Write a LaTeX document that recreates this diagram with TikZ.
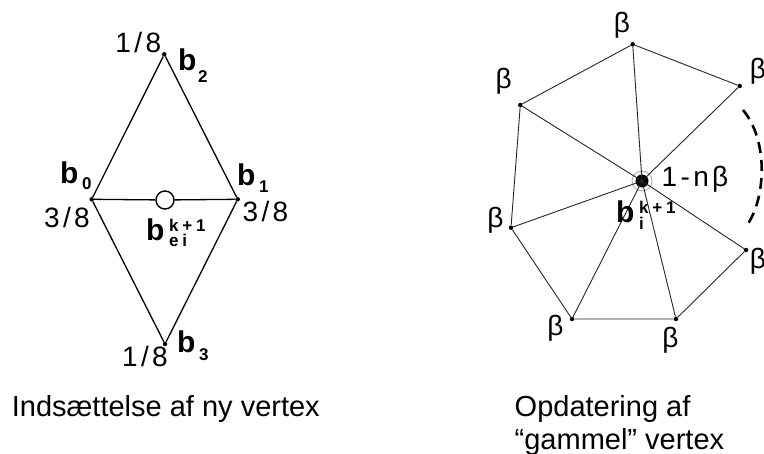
\documentclass[tikz,border=0pt]{standalone}
\usepackage{fontspec}
\setmainfont{Liberation Sans}
\newfontfamily\lblfont[LetterSpace=12]{Liberation Sans}
\newfontfamily\idxfont[LetterSpace=22]{Liberation Sans}
% b with index: #1 kern, #2 raise of sup, #3 sup, #4 drop of sub, #5 sub
\newcommand\bidx[5]{b\kern#1{\idxfont\fontsize{17}{17}\selectfont\bfseries\rlap{\raisebox{#2}{#3}}\raisebox{-#4}{#5}}}
\begin{document}
\begin{tikzpicture}[x=1pt,y=-1pt,
  dot/.style={circle,fill=black,inner sep=0pt,minimum size=4.5pt},
  edgeL/.style={line width=1.3pt},
  edgeR/.style={line width=0.9pt,black!85},
  lab/.style={font=\lblfont\fontsize{28}{28}\selectfont,inner sep=0pt},
  bsym/.style={font=\fontsize{30}{30}\selectfont\bfseries,inner sep=0pt,anchor=base west},
  capt/.style={font=\fontsize{29}{33}\selectfont,inner sep=0pt,align=left,anchor=base west}]
\useasboundingbox (0,0) rectangle (764,454);
\clip (0,0) rectangle (764,454);
% ---------- left diagram ----------
\node[dot] (b2) at (164.3,54.3) {};
\node[dot] (b0) at (91.7,199.3) {};
\node[dot] (b1) at (237.7,199.3) {};
\node[dot] (b3) at (165,344) {};
\node[circle,draw,line width=1.4pt,fill=white,minimum size=18pt,inner sep=0pt] (m) at (165,200) {};
\draw[edgeL] (b0) -- (b2) -- (b1) -- (b3) -- (b0);
\draw[edgeL] (b0) -- (m) -- (b1);
\node[lab,anchor=base] (l2) at (138.3,53) {1/8};
\node[lab,anchor=base] (l0) at (67,228) {3/8};
\node[lab,anchor=base] (l1) at (265.5,221.5) {3/8};
\node[lab,anchor=base] (l3) at (145,366.5) {1/8};
\node[bsym] (t2) at (178,71) {\bidx{1.7pt}{0pt}{}{12pt}{2}};
\node[bsym] (t0) at (60,184) {\bidx{3.7pt}{0pt}{}{6pt}{0}};
\node[bsym] (t1) at (237,186) {\bidx{3.7pt}{0pt}{}{7pt}{1}};
\node[bsym] (t3) at (177,353) {\bidx{3.7pt}{0pt}{}{8pt}{3}};
\node[bsym] (te) at (146,241) {\bidx{4.7pt}{9pt}{k+1}{6pt}{ei}};
\node[capt] (c1) at (11.7,416.7) {Indsættelse af ny vertex};
% ---------- right diagram ----------
\node[circle,draw=black!30,line width=1pt,minimum size=20pt,inner sep=0pt] (halo) at (642,181) {};
\node[dot,minimum size=13pt] (c) at (642,181) {};
\node[dot] (v1) at (632.7,44.3) {};
\node[dot] (v2) at (739.7,86) {};
\node[dot] (v3) at (520.3,105) {};
\node[dot] (v4) at (511,227.7) {};
\node[dot] (v5) at (572,319) {};
\node[dot] (v6) at (676,319) {};
\node[dot] (v7) at (746,250) {};
\draw[edgeR] (v2) -- (v1) -- (v3) -- (v4) -- (v5) -- (v6) -- (v7);
\foreach \v in {v1,v2,v3,v4,v5,v6,v7} \draw[edgeR] (c.center) -- (\v);
\coordinate (d1) at (743,110);
\coordinate (d2) at (748.5,223);
\draw[line width=2.6pt,dash pattern=on 11pt off 7pt] (d1) .. controls (768,140) and (766,195) .. (d2);
\node[lab] (p1) at (622,25) {β};
\node[lab] (p2) at (758,71) {β};
\node[lab] (p3) at (503.7,81.7) {β};
\node[lab] (p4) at (495.3,220) {β};
\node[lab] (p5) at (555.3,328.3) {β};
\node[lab] (p6) at (670.3,340) {β};
\node[lab] (p7) at (758,261) {β};
\node[lab,anchor=base west] (w) at (661.5,187) {1-nβ};
\node[bsym] (ti) at (616,223) {\bidx{4.7pt}{9pt}{k+1}{7pt}{i}};
\node[capt] (c2) at (514.5,450) {Opdatering af\\“gammel” vertex};
\end{tikzpicture}
\end{document}
